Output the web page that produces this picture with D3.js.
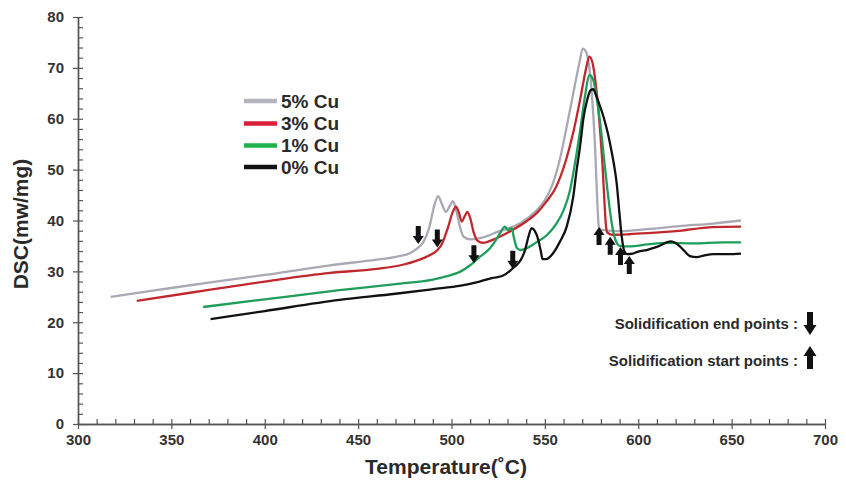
<!DOCTYPE html>
<html>
<head>
<meta charset="utf-8">
<script src="https://cdn.jsdelivr.net/npm/d3@7/dist/d3.min.js"></script>
<style>
html,body{margin:0;padding:0;background:#fff;}
svg{display:block;font-family:"Liberation Sans",Arial,sans-serif;}
</style>
</head>
<body>
<svg id="chart" width="846" height="483"></svg>
<script>
// ---------- data ----------
const seriesNames = ["5% Cu", "3% Cu", "1% Cu", "0% Cu"];
const xTicks = [300, 350, 400, 450, 500, 550, 600, 650, 700];
const yTicks = [0, 10, 20, 30, 40, 50, 60, 70, 80];

const tempCu5 = [317.5,340,370,400,435,460,471,478,482,485,488,490.5,492.8,494.5,497,499,500.8,502.5,504.5,506.5,510,516,525,537,545,550,554,558,562,566,568.5,570.3,572,574,575.5,576.8,577.7,578.3,578.8,580,590,605,622,640,655];
const dscCu5  = [25.0,26.2,27.8,29.3,31.2,32.3,32.9,33.6,34.6,35.8,38.5,42.5,44.8,43.6,41.7,42.8,43.8,42.0,38.8,36.8,36.3,36.6,37.8,39.5,41.8,44.0,47.0,52.0,59.0,66.5,71.0,73.8,73.2,69.5,63.0,55.0,47.0,42.0,39.0,38.2,37.9,38.3,38.9,39.4,40.0];

const tempCu3 = [331.5,360,400,435,460,475,485,490,492.5,495,498,500.5,502.4,504,505.5,507,508.5,510,512,514,517,522,531,540,546,551,556,561,565,569,572,573.8,575.5,577.5,579.5,581,582,582.7,583.5,586,595,605,620,640,655];
const dscCu3  = [24.2,25.8,28.0,29.7,30.5,31.4,32.6,33.5,34.2,35.5,38.5,41.5,42.7,41.5,39.8,40.8,41.7,40.5,37.5,36.0,35.6,36.2,37.8,39.8,41.6,43.8,46.6,51.5,57.0,64.0,69.8,72.2,71.0,66.0,58.0,50.0,43.0,39.0,37.6,37.2,37.3,37.5,37.9,38.7,38.8];

const tempCu1 = [367,400,440,470,490,500,505,510,515,520.5,524,526,528.6,530.2,532.2,533.5,535,537,540,545,551,556,560,563.5,566,569,571.5,573.8,576,578,580,582,583.5,585,586.5,588,590.2,595,605,615,630,645,655];
const dscCu1  = [23.0,24.5,26.3,27.5,28.4,29.3,30.0,31.2,32.8,34.5,36.3,37.5,38.8,38.1,38.5,36.5,34.6,34.2,34.5,35.6,37.1,39.3,42.0,46.0,51.0,58.0,64.5,68.6,67.5,63.5,58.0,51.0,46.0,41.5,38.0,36.0,35.0,34.9,35.3,35.6,35.5,35.7,35.7];

const tempCu0 = [371,400,440,470,490,505,515,522,527.7,531,533,535,537,539.4,541.2,542.9,544.5,546.5,547.8,548.8,550.5,554.5,558,561.7,565.2,567,569,570.6,572.5,574.5,575.9,577.5,579.5,581.3,583.5,585.5,587,588.4,589.8,591.1,592.5,594,597,600,604.5,610,617.5,620,622.3,625,627.7,631.3,635,640.2,648,655];
const dscCu0  = [20.6,22.2,24.4,25.6,26.5,27.2,28.0,28.7,29.2,30.0,30.7,31.3,32.2,34.2,36.8,38.5,38.0,36.2,34.0,32.4,32.4,33.6,35.8,38.8,44.7,49.9,55.0,60.0,63.5,65.6,65.8,64.5,62.5,60.5,57.5,54.0,51.0,47.5,42.0,37.0,34.0,33.4,33.5,33.9,34.2,34.8,35.9,35.6,34.9,33.9,33.0,32.8,33.1,33.4,33.4,33.5];

// solidification end points (down arrows, tip position) and start points (up arrows)
const endArrowT   = [482.2, 492.4, 512.0, 532.8];
const endArrowD   = [35.4, 34.7, 31.6, 30.5];
const startArrowT = [579.0, 585.0, 590.5, 595.2];
const startArrowD = [38.7, 36.8, 34.8, 33.0];

const annotationTexts = ["Solidification end points :", "Solidification start points :"];

// ---------- styles ----------
const curveColors  = ["#a9a9b3", "#c0282d", "#1e9e5a", "#111111"];
const legendColors = ["#b4b4bc", "#d9203a", "#22b04b", "#111111"];
const axisColor = "#555";
const textColor = "#2a2a2a";

// ---------- scales ----------
const svg = d3.select("#chart");
const x = d3.scaleLinear().domain([300, 700]).range([78, 825]);
const y = d3.scaleLinear().domain([0, 80]).range([424, 17]);

// ---------- axes ----------
const xMinor = d3.range(300, 701, 10);
const yMinor = d3.range(0, 81, 2);

function styleAxis(g) {
  g.selectAll("path.domain").attr("stroke", axisColor).attr("stroke-width", 1.4);
  g.selectAll(".tick line").attr("stroke", axisColor).attr("stroke-width", 1.2);
  g.selectAll(".tick text").attr("fill", "#333").attr("font-weight", "bold")
    .attr("font-size", 15).attr("font-family", '"Liberation Sans",Arial,sans-serif');
}

// minor ticks, inside
svg.append("g").attr("transform", `translate(0,${y(0)})`)
  .call(d3.axisTop(x).tickValues(xMinor).tickSize(5).tickSizeOuter(0).tickFormat(""))
  .call(styleAxis);
svg.append("g").attr("transform", `translate(${x(300)},0)`)
  .call(d3.axisRight(y).tickValues(yMinor).tickSize(5).tickSizeOuter(0).tickFormat(""))
  .call(styleAxis);
// major ticks, outside with labels
svg.append("g").attr("transform", `translate(0,${y(0)})`)
  .call(d3.axisBottom(x).tickValues(xTicks).tickSize(5).tickSizeOuter(0).tickPadding(5).tickFormat(d3.format("d")))
  .call(styleAxis);
svg.append("g").attr("transform", `translate(${x(300)},0)`)
  .call(d3.axisLeft(y).tickValues(yTicks).tickSize(5).tickSizeOuter(0).tickPadding(9).tickFormat(d3.format("d")))
  .call(styleAxis);

// axis titles
svg.append("text").attr("x", 446).attr("y", 474).attr("text-anchor", "middle")
  .attr("font-size", 21).attr("font-weight", "bold").attr("fill", textColor)
  .text("Temperature(˚C)");
svg.append("text").attr("transform", "translate(28,224) rotate(-90)").attr("text-anchor", "middle")
  .attr("font-size", 21).attr("font-weight", "bold").attr("fill", textColor)
  .text("DSC(mw/mg)");

// ---------- curves ----------
const seriesT = [tempCu5, tempCu3, tempCu1, tempCu0];
const seriesD = [dscCu5, dscCu3, dscCu1, dscCu0];
const line = d3.line().x(d => x(d[0])).y(d => y(d[1])).curve(d3.curveMonotoneX);

[0, 1, 2, 3].forEach(i => {
  const pts = seriesT[i].map((t, k) => [t, seriesD[i][k]]);
  svg.append("path").datum(pts).attr("d", line)
    .attr("fill", "none").attr("stroke", curveColors[i])
    .attr("stroke-width", 2.3).attr("stroke-linejoin", "round");
});

// ---------- arrows ----------
function arrowPath(len, head, headW, shaftW) {
  // pointing down, tip at (0,0)
  return `M0,0 L${-headW/2},${-head} L${-shaftW/2},${-head} L${-shaftW/2},${-len} L${shaftW/2},${-len} L${shaftW/2},${-head} L${headW/2},${-head} Z`;
}
const arrowDown = arrowPath(18, 8, 11, 5);
endArrowT.forEach((t, i) => {
  svg.append("path").attr("d", arrowDown)
    .attr("transform", `translate(${x(t)},${y(endArrowD[i])})`)
    .attr("fill", "#111");
});
startArrowT.forEach((t, i) => {
  svg.append("path").attr("d", arrowDown)
    .attr("transform", `translate(${x(t)},${y(startArrowD[i])}) scale(1,-1)`)
    .attr("fill", "#111");
});

// ---------- legend ----------
const legendY = [101, 123.5, 145.5, 167];
seriesNames.forEach((name, i) => {
  svg.append("line").attr("x1", 244).attr("x2", 277)
    .attr("y1", legendY[i]).attr("y2", legendY[i])
    .attr("stroke", legendColors[i]).attr("stroke-width", 4.5);
  svg.append("text").attr("x", 281).attr("y", legendY[i]).attr("dy", "0.36em")
    .attr("font-size", 19).attr("font-weight", "bold").attr("fill", textColor)
    .text(name);
});

// ---------- annotation ----------
svg.append("text").attr("x", 798).attr("y", 329).attr("text-anchor", "end")
  .attr("font-size", 15).attr("font-weight", "bold").attr("fill", textColor)
  .text(annotationTexts[0]);
svg.append("text").attr("x", 798).attr("y", 366).attr("text-anchor", "end")
  .attr("font-size", 15).attr("font-weight", "bold").attr("fill", textColor)
  .text(annotationTexts[1]);
const bigArrow = arrowPath(23, 10, 13, 6);
svg.append("path").attr("d", bigArrow).attr("transform", "translate(810,335)").attr("fill", "#111");
svg.append("path").attr("d", bigArrow).attr("transform", "translate(810,346) scale(1,-1)").attr("fill", "#111");
</script>
</body>
</html>
